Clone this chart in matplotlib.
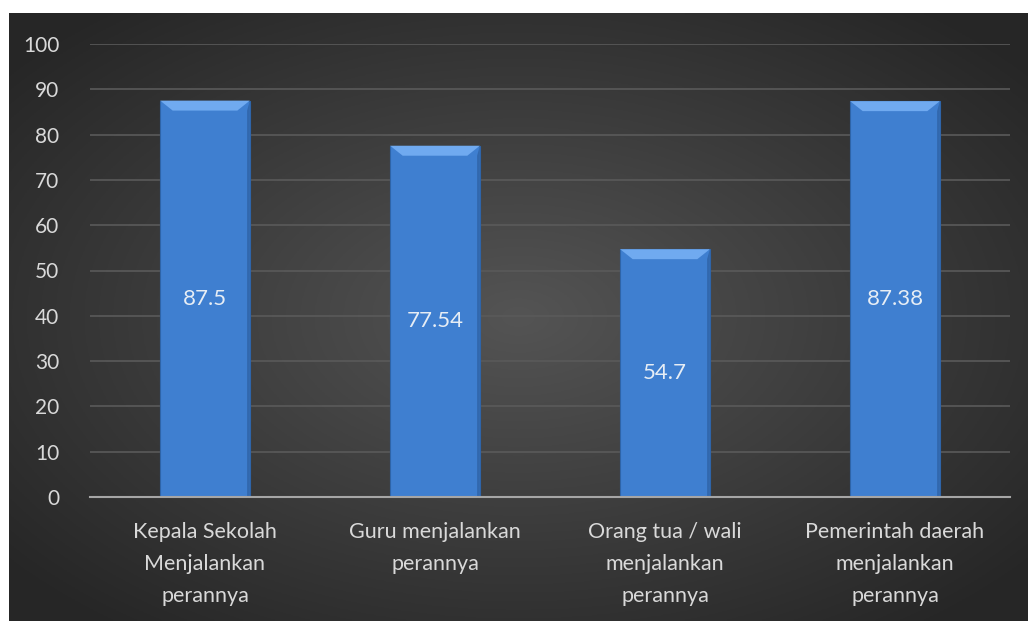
import numpy as np
import matplotlib.pyplot as plt
from matplotlib.patches import Polygon

# Data
categories = ['Kepala Sekolah\nMenjalankan\nperannya',
              'Guru menjalankan\nperannya',
              'Orang tua / wali\nmenjalankan\nperannya',
              'Pemerintah daerah\nmenjalankan\nperannya']
values = [87.5, 77.54, 54.7, 87.38]
value_labels = ['87.5', '77.54', '54.7', '87.38']
yticks = [0, 10, 20, 30, 40, 50, 60, 70, 80, 90, 100]

plt.rcParams['font.family'] = ['Lato', 'DejaVu Sans']

fig = plt.figure(figsize=(10.28, 6.21), dpi=100)
fig.patch.set_facecolor('white')

# Dark radial gradient background
bg = fig.add_axes([9 / 1028, 0, 1 - 9 / 1028, 1 - 13 / 621])
gx, gy = np.meshgrid(np.linspace(-1, 1, 400), np.linspace(-1, 1, 250))
r = np.clip(np.sqrt(gx ** 2 + gy ** 2) / 1.3, 0, 1)
shade = 0.33 - 0.18 * r
bg.imshow(np.dstack([shade, shade, shade]), aspect='auto', extent=[0, 1, 0, 1])
bg.axis('off')

ax = fig.add_axes([90 / 1028, (621 - 497) / 621, 920 / 1028, 453 / 621])
ax.set_facecolor('none')

x = np.arange(len(categories))
bars = ax.bar(x, values, width=0.39, color='#3f7fd0', zorder=3,
              edgecolor='#2e64a8', linewidth=0.8)

# bevel on top of each bar
for b in bars:
    bx, bw, bh = b.get_x(), b.get_width(), b.get_height()
    d = 2.2
    inset = bw * 0.14
    ax.add_patch(Polygon([[bx, bh], [bx + bw, bh], [bx + bw - inset, bh - d], [bx + inset, bh - d]],
                         closed=True, facecolor='#70aaf0', edgecolor='none', zorder=4))
    ax.add_patch(Polygon([[bx + bw - 0.012, 0], [bx + bw, 0], [bx + bw, bh], [bx + bw - 0.012, bh - d]],
                         closed=True, facecolor='#2d5fa0', edgecolor='none', zorder=4, alpha=0.7))

for xi, v, lab in zip(x, values, value_labels):
    ax.text(xi, v / 2, lab, ha='center', va='center', color='#e6edf5', fontsize=16, zorder=5)

ax.set_xlim(-0.5, len(categories) - 0.5)
ax.set_ylim(0, 100)
ax.set_yticks(yticks)
ax.set_yticklabels([str(t) for t in yticks], color='#d9d9d9', fontsize=15)
ax.set_xticks(x)
ax.set_xticklabels(categories, color='#d9d9d9', fontsize=15.5, linespacing=1.75)
ax.tick_params(axis='both', length=0)
ax.tick_params(axis='y', pad=22)
ax.tick_params(axis='x', pad=18)
ax.grid(axis='y', color='#5a5a5a', linewidth=1.2, zorder=1)
for s in ['top', 'right', 'left']:
    ax.spines[s].set_visible(False)
ax.spines['bottom'].set_color('#a6a6a6')
ax.spines['bottom'].set_linewidth(1.5)
ax.spines['bottom'].set_zorder(6)

fig.savefig('out.png', dpi=100)
